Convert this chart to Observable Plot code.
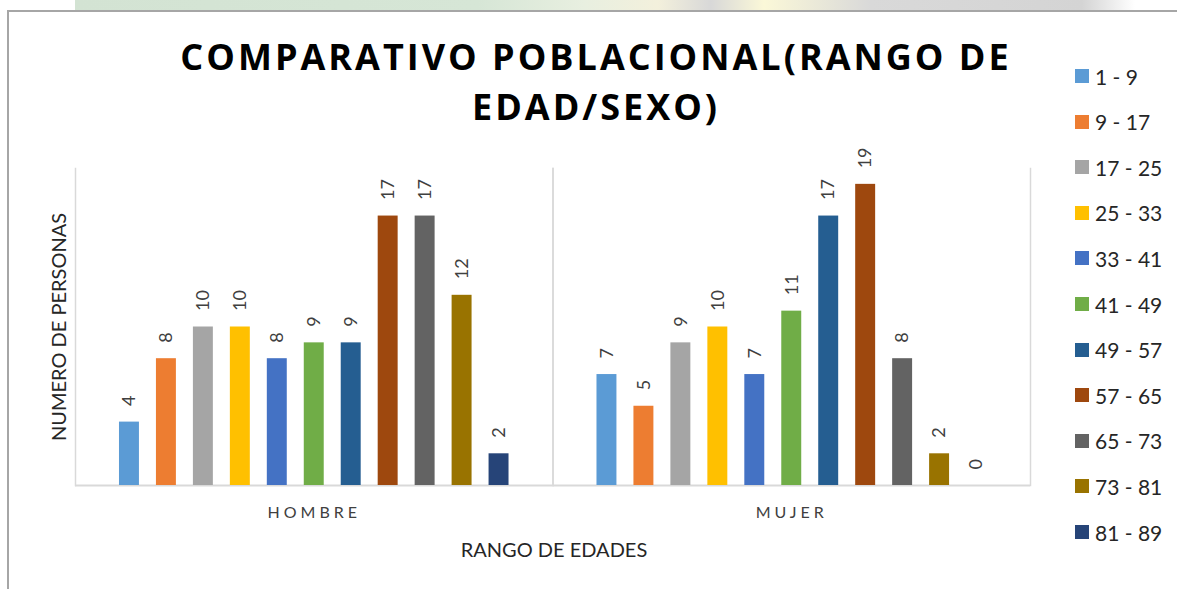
<!DOCTYPE html>
<html><head><meta charset="utf-8">
<script src="https://cdn.jsdelivr.net/npm/d3@7"></script>
<script src="https://cdn.jsdelivr.net/npm/@observablehq/plot@0.6"></script>
<style>
body{margin:0;background:#fff;}
#wrap{position:relative;width:1177px;height:589px;overflow:hidden;font-family:Lato,"Open Sans",sans-serif;background:#fff;}
#strip{position:absolute;left:75px;top:0;width:1060px;height:10px;
 background:linear-gradient(to right,#d3e3d3 0%,#d6e6d6 38%,#e8efe0 48%,#f3f0dc 55%,#d8d8d8 60%,#fbf8d8 65%,#d9d9d9 75%,#d4d4d4 95%,#fff 100%);}
#border{position:absolute;left:7px;top:10px;width:1200px;height:600px;border-left:2px solid #a6a6a6;border-top:2px solid #a6a6a6;}
#chart{position:absolute;left:0;top:0;}
#title{position:absolute;left:0;top:32px;width:1192px;text-align:center;font-family:"Open Sans",sans-serif;font-weight:700;font-size:36px;line-height:50px;letter-spacing:3px;color:#000;}
#ylabel{position:absolute;left:58px;top:327px;transform:translate(-50%,-50%) rotate(-90deg);white-space:nowrap;font-size:20px;color:#262626;}
#xlabel{position:absolute;left:554px;top:549px;transform:translate(-50%,-50%);white-space:nowrap;font-size:20px;color:#262626;}
#legend .item{position:absolute;left:1075px;display:flex;align-items:center;font-size:21px;color:#262626;white-space:nowrap;}
#legend .sw{width:14px;height:14px;margin-right:6px;}
#chart [aria-label^="fx-axis"] text{letter-spacing:4px;}
</style></head><body>
<div id="wrap">
 <div id="strip"></div>
 <div id="border"></div>
 <div id="chart"></div>
 <div id="title">COMPARATIVO POBLACIONAL(RANGO DE<br>EDAD/SEXO)</div>
 <div id="ylabel">NUMERO DE PERSONAS</div>
 <div id="xlabel">RANGO DE EDADES</div>
 <div id="legend"></div>
</div>
<script>
const sexos = ["HOMBRE", "MUJER"];
const rangos = ["1 - 9", "9 - 17", "17 - 25", "25 - 33", "33 - 41", "41 - 49", "49 - 57", "57 - 65", "65 - 73", "73 - 81", "81 - 89"];
const colores = ["#5B9BD5", "#ED7D31", "#A5A5A5", "#FFC000", "#4472C4", "#70AD47", "#255E91", "#9E480E", "#636363", "#997300", "#264478"];
const hombre = [4, 8, 10, 10, 8, 9, 9, 17, 17, 12, 2];
const mujer = [7, 5, 9, 10, 7, 11, 17, 19, 8, 2, 0];

const data = [];
rangos.forEach((r, i) => data.push({sexo: "HOMBRE", rango: r, valor: hombre[i]}));
rangos.forEach((r, i) => data.push({sexo: "MUJER", rango: r, valor: mujer[i]}));

const plot = Plot.plot({
  width: 1177, height: 589,
  marginLeft: 75, marginRight: 147, marginTop: 168, marginBottom: 104,
  style: {fontFamily: "Lato, sans-serif", background: "transparent"},
  fx: {domain: sexos, padding: 0, round: false, axis: "bottom", label: null, tickSize: 0, tickPadding: 21, fontSize: 16},
  x: {domain: sexos.length ? rangos : rangos, axis: null, round: false, paddingInner: 0.46, paddingOuter: 1.19},
  y: {domain: [0, 20], axis: null},
  color: {domain: rangos, range: colores},
  marks: [
    Plot.frame({anchor: "left", stroke: "#d9d9d9", strokeWidth: 1.5}),
    Plot.frame({anchor: "right", stroke: "#d9d9d9", strokeWidth: 1.5}),
    Plot.ruleY([0], {stroke: "#d9d9d9", strokeWidth: 2}),
    Plot.barY(data, {fx: "sexo", x: "rango", y: "valor", fill: "rango"}),
    Plot.text(data, {fx: "sexo", x: "rango", y: "valor", text: d => String(d.valor), rotate: -90, textAnchor: "start", lineAnchor: "middle", dy: -16, fontSize: 18, fill: "#404040"})
  ]
});
plot.querySelectorAll('[aria-label^="fx-axis"] text').forEach(t => { t.setAttribute("fill", "#404040"); t.style.fontSize = "16px"; });
document.getElementById("chart").appendChild(plot);

const legend = document.getElementById("legend");
rangos.forEach((r, i) => {
  const it = document.createElement("div");
  it.className = "item";
  it.style.top = (76 + i * 45.6 - 13) + "px";
  it.style.height = "26px";
  const sw = document.createElement("div");
  sw.className = "sw";
  sw.style.background = colores[i];
  const tx = document.createElement("span");
  tx.textContent = r;
  it.appendChild(sw); it.appendChild(tx);
  legend.appendChild(it);
});
</script>
</body></html>
